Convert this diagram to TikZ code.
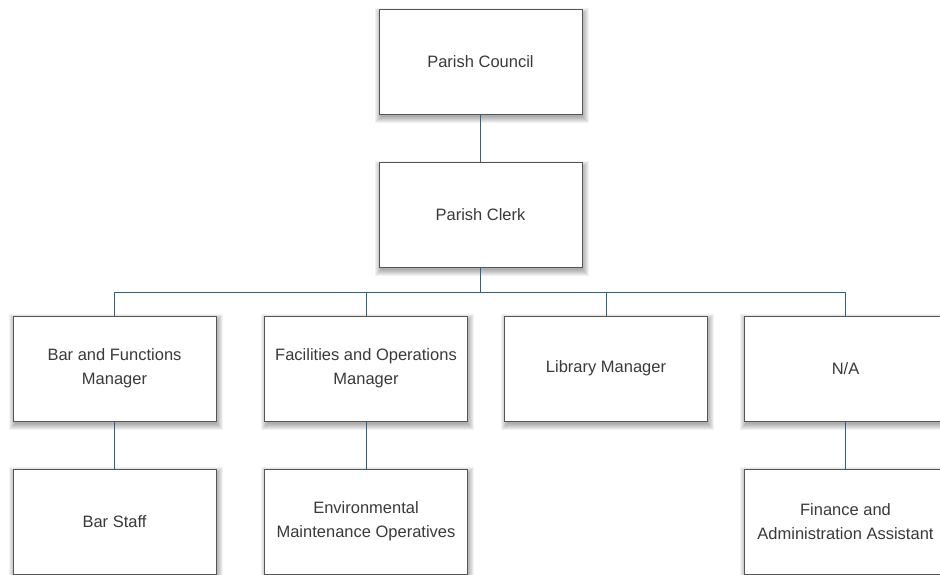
\documentclass[tikz,border=0pt]{standalone}
\usepackage{fontspec}
\setmainfont{Liberation Sans}
\usetikzlibrary{backgrounds}
\definecolor{linkblue}{HTML}{2F5F8A}
\definecolor{boxborder}{HTML}{555555}
\definecolor{txt}{HTML}{3A3A3A}
\begin{document}
\begin{tikzpicture}[x=1pt,y=-1pt,
  orgbox/.style={draw=boxborder, line width=0.9pt, fill=white,
    minimum width=203pt, minimum height=105pt, inner sep=0pt,
    align=center, text=txt,
    font=\fontsize{16.5pt}{24pt}\selectfont},
  link/.style={draw=linkblue, line width=0.9pt},
  softshade/.style={fill=black, opacity=0.05}]
\useasboundingbox (0,0) rectangle (940,574);
\node[orgbox] (pc) at (480.5,62) {Parish Council};
\node[orgbox] (clerk) at (480.5,215) {Parish Clerk};
\node[orgbox] (bar) at (114.5,368.5) {Bar and Functions\\Manager};
\node[orgbox] (fac) at (366,368.5) {Facilities and Operations\\Manager};
\node[orgbox] (lib) at (606,368.5) {Library Manager};
\node[orgbox] (na) at (845.5,368.5) {N/A};
\node[orgbox] (staff) at (114.5,521.5) {Bar Staff};
\node[orgbox] (env) at (366,521.5) {Environmental\\Maintenance Operatives};
\node[orgbox] (fin) at (845.5,521.5) {Finance and\\Administration Assistant};
\coordinate (bus) at (480.5,292);
\begin{scope}[on background layer]
  \fill[white] (0,0) rectangle (940,574);
  \foreach \n in {pc,clerk,bar,fac,lib,na,staff,env,fin}{
    \foreach \k in {-1,0,1,2,3,4,5}{
      \fill[softshade] ([shift={(1.5-\k,3.5-\k)}]\n.north west) rectangle ([shift={(1.5+\k,3.5+\k)}]\n.south east);
    }
  }
\end{scope}
\path[link] (pc.south) -- (clerk.north);
\path[link] (clerk.south) -- (bus);
\path[link] (bus) -| (bar.north);
\path[link] (bus) -| (fac.north);
\path[link] (bus) -| (lib.north);
\path[link] (bus) -| (na.north);
\path[link] (bar.south) -- (staff.north);
\path[link] (fac.south) -- (env.north);
\path[link] (na.south) -- (fin.north);
\end{tikzpicture}
\end{document}
